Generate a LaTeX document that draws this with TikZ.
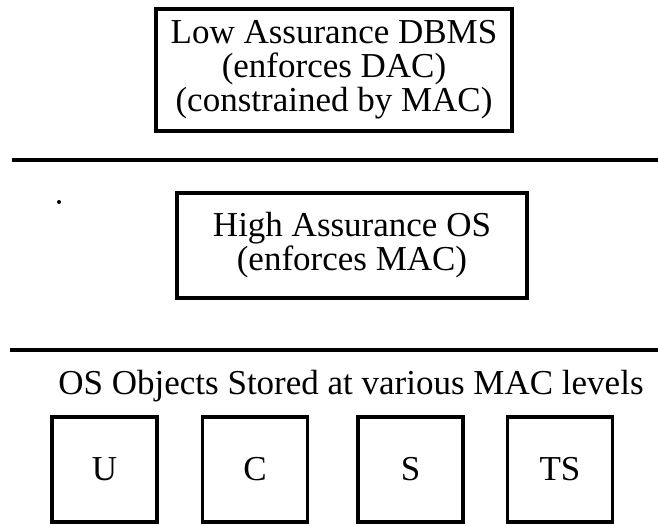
\documentclass[tikz,border=0pt]{standalone}
\IfFileExists{pplr8t.tfm}{%
  \usepackage[T1]{fontenc}\renewcommand{\rmdefault}{ppl}}{%
  \usepackage{fontspec}\setmainfont{Liberation Serif}}
\begin{document}
\begin{tikzpicture}[x=0.5pt,y=-0.5pt,
  box/.style={draw,line width=1.6pt,inner sep=0pt,align=center,
    font=\fontsize{17.5}{17}\selectfont},
  rule/.style={line width=2pt},
  caption/.style={font=\fontsize{17.5}{17}\selectfont,anchor=base}]
\useasboundingbox (0,0) rectangle (658,525);

% upper layer: the DBMS
\node[box,minimum width=178pt,minimum height=61pt] (dbms) at (334,70)
  {Low Assurance DBMS\\(enforces DAC)\\(constrained by MAC)};

\coordinate (r1a) at (12,160);
\coordinate (r1b) at (658,160);
\draw[rule] (r1a) -- (r1b);

% middle layer: the trusted OS
\node[box,minimum width=175pt,minimum height=52.5pt] (os) at (352,245.5)
  {High Assurance OS\\(enforces MAC)};
\fill (59,202) circle (2);

\coordinate (r2a) at (10,350);
\coordinate (r2b) at (658,350);
\draw[rule] (r2a) -- (r2b);

% bottom layer: stored objects by level
\node[caption] (objs) at (351,394) {OS Objects Stored at various MAC levels};
\node[box,minimum width=52.5pt,minimum height=52.5pt] (u)  at (104.5,469.5) {U};
\node[box,minimum width=52.5pt,minimum height=52.5pt] (c)  at (255,469.5)   {C};
\node[box,minimum width=52.5pt,minimum height=52.5pt] (s)  at (410.5,469.5) {S};
\node[box,minimum width=52.5pt,minimum height=52.5pt] (ts) at (560,469.5)   {TS};
\end{tikzpicture}
\end{document}
